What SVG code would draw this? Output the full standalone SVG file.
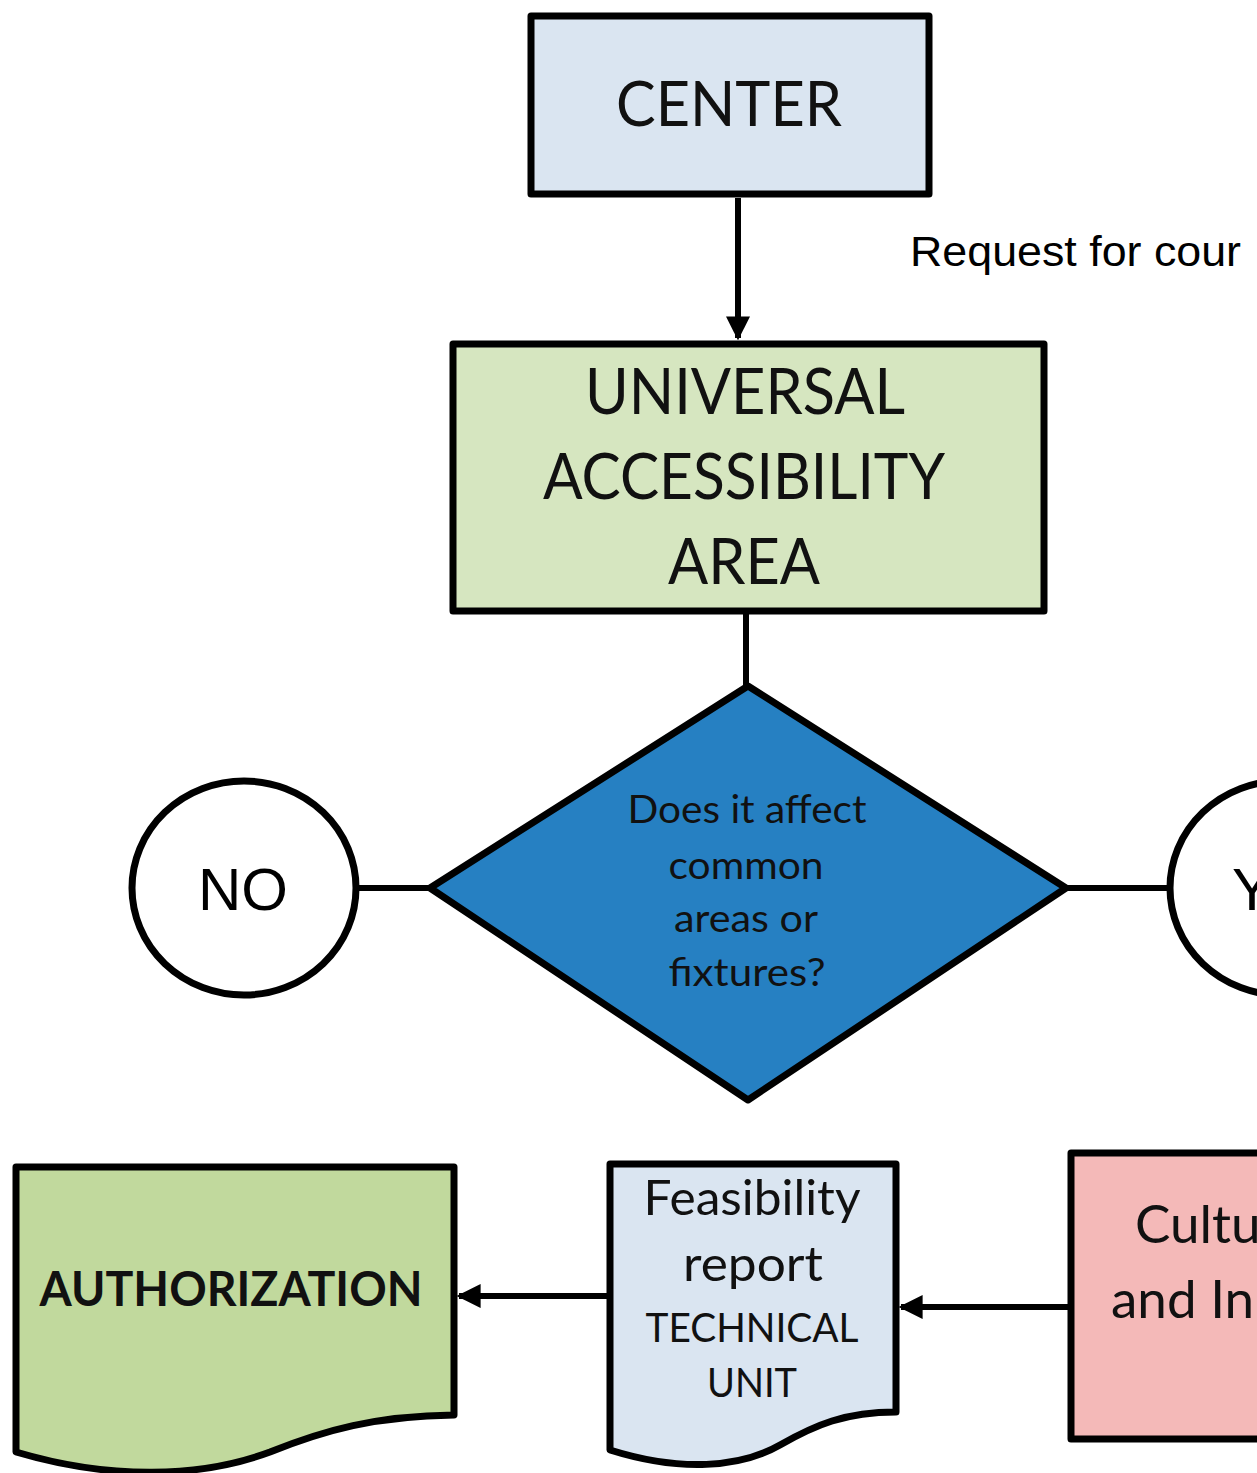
<svg xmlns="http://www.w3.org/2000/svg" width="1257" height="1473" viewBox="0 0 1257 1473">
<style>
.box{stroke:#000;stroke-width:7;stroke-linejoin:round}
.t{font-family:Lato,"Open Sans","Noto Sans",sans-serif;fill:#111;text-anchor:middle}
.s{font-family:Lato,"Open Sans","Noto Sans",sans-serif;fill:#111;text-anchor:start}
.a{font-family:"Liberation Sans",Arial,sans-serif;fill:#000}
.conn{stroke:#000;stroke-width:6;fill:none}
</style>
<defs>
<marker id="ah" viewBox="0 0 10 10" refX="9" refY="5" markerWidth="4" markerHeight="4" orient="auto" markerUnits="strokeWidth">
<path d="M0,0 L10,5 L0,10 Z" fill="#000"/>
</marker>
</defs>
<rect width="1257" height="1473" fill="#fff"/>
<g id="connectors">
<line class="conn" x1="738" y1="198" x2="738" y2="338" marker-end="url(#ah)"/>
<line class="conn" x1="746" y1="612" x2="746" y2="686"/>
<line class="conn" x1="355" y1="888" x2="430" y2="888"/>
<line class="conn" x1="1066" y1="888" x2="1170" y2="888"/>
<line class="conn" x1="608" y1="1296" x2="459" y2="1296" marker-end="url(#ah)"/>
<line class="conn" x1="1070" y1="1307" x2="901" y2="1307" marker-end="url(#ah)"/>
</g>
<g id="request-label">
<text class="a" x="910" y="266" font-size="43" textLength="331" lengthAdjust="spacingAndGlyphs">Request for cour</text>
</g>
<g id="center">
<rect class="box" x="531" y="16" width="398" height="178" fill="#dae5f1"/>
<text class="t" x="729" y="126" font-size="61" textLength="226" lengthAdjust="spacingAndGlyphs">CENTER</text>
</g>
<g id="ua-area">
<rect class="box" x="453" y="344" width="591" height="267" fill="#d6e6c0"/>
<text class="t" x="745" y="414" font-size="63" textLength="320" lengthAdjust="spacingAndGlyphs">UNIVERSAL</text>
<text class="t" x="744" y="499" font-size="63" textLength="402" lengthAdjust="spacingAndGlyphs">ACCESSIBILITY</text>
<text class="t" x="744" y="584" font-size="63" textLength="152" lengthAdjust="spacingAndGlyphs">AREA</text>
</g>
<g id="decision">
<polygon class="box" points="748,686 1066,888 748,1100 430,888" fill="#2680c2"/>
<text class="t" x="747" y="823" font-size="38" textLength="239" lengthAdjust="spacingAndGlyphs">Does it affect</text>
<text class="t" x="746" y="879" font-size="38" textLength="155" lengthAdjust="spacingAndGlyphs">common</text>
<text class="t" x="746" y="932" font-size="38" textLength="144" lengthAdjust="spacingAndGlyphs">areas or</text>
<text class="t" x="747" y="986" font-size="38" textLength="157" lengthAdjust="spacingAndGlyphs">fixtures?</text>
</g>
<g id="no">
<ellipse cx="244" cy="888" rx="112" ry="107" fill="#fff" stroke="#000" stroke-width="7"/>
<text class="a" x="243" y="910" font-size="60" text-anchor="middle">NO</text>
</g>
<g id="yes">
<ellipse cx="1282" cy="888" rx="112" ry="107" fill="#fff" stroke="#000" stroke-width="7"/>
<text class="a" x="1232" y="910" font-size="60">YES</text>
</g>
<g id="authorization">
<path class="box" d="M16,1167 H454 V1415 C375,1416 325,1430 270,1452 C200,1478 110,1480 16,1452 Z" fill="#c1d99d"/>
<text class="t" x="231" y="1306" font-size="48" font-weight="bold" textLength="383" lengthAdjust="spacingAndGlyphs">AUTHORIZATION</text>
</g>
<g id="feasibility">
<path class="box" d="M610,1164 H896 V1412 C845,1412 815,1425 780,1445 C740,1468 680,1472 610,1450 Z" fill="#dae5f1"/>
<text class="t" x="752" y="1215" font-size="48" textLength="217" lengthAdjust="spacingAndGlyphs">Feasibility</text>
<text class="t" x="753" y="1281" font-size="48" textLength="140" lengthAdjust="spacingAndGlyphs">report</text>
<text class="t" x="752" y="1342" font-size="41" textLength="213" lengthAdjust="spacingAndGlyphs">TECHNICAL</text>
<text class="t" x="752" y="1397" font-size="41" textLength="90" lengthAdjust="spacingAndGlyphs">UNIT</text>
</g>
<g id="culture">
<rect class="box" x="1071" y="1153" width="220" height="286" fill="#f4b9b8"/>
<text class="s" x="1135" y="1243" font-size="53">Cultu</text>
<text class="s" x="1111" y="1318" font-size="53">and In</text>
</g>
</svg>
